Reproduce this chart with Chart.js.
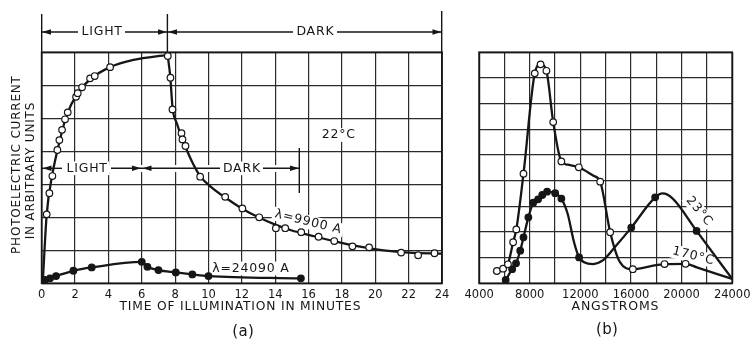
<!DOCTYPE html>
<html lang="en">
<head>
<meta charset="UTF-8">
<title>Photoelectric current</title>
<script src="https://cdn.jsdelivr.net/npm/chart.js"></script>
<style>
  body { margin: 0; background: #fff; }
  .painel { position: absolute; top: 0; }
  #painel_a { left: 0; }
  #painel_b { left: 460px; }
</style>
</head>
<body>
<canvas id="painel_a" class="painel" width="460" height="343"></canvas>
<canvas id="painel_b" class="painel" width="295" height="343"></canvas>
<script>
// (a) current vs time, lambda = 9900 A (open circles)
const tempo9900 = [0.3, 0.46, 0.64, 0.94, 1.06, 1.22, 1.40, 1.56, 2.06, 2.16, 2.42, 2.9, 3.18, 4.1, 7.56,
  7.72, 7.84, 8.38, 8.44, 8.62, 9.5, 11.0, 12.03, 13.04, 14.04, 14.6, 15.56, 16.6, 17.54, 18.63, 19.63, 21.55, 22.57, 23.55];
const corrente9900 = [2.09, 2.73, 3.25, 4.04, 4.34, 4.65, 4.97, 5.18, 5.65, 5.76, 5.94, 6.21, 6.28, 6.55, 6.89,
  6.23, 5.27, 4.55, 4.36, 4.16, 3.23, 2.62, 2.27, 2.0, 1.67, 1.67, 1.55, 1.41, 1.28, 1.12, 1.09, 0.93, 0.85, 0.91];
// drawn curve through them (light on, then dark)
const curvaLuzT = [0.06, 0.3, 0.64, 1.0, 1.5, 2.1, 2.9, 4.1, 5.5, 7.55];
const curvaLuzY = [0, 2.09, 3.3, 4.15, 5.1, 5.72, 6.18, 6.55, 6.77, 6.92];
const curvaEscuroT = [7.55, 7.7, 7.85, 8.1, 8.45, 9.0, 9.5, 10.2, 11, 12, 13, 14, 15, 16, 17.5, 19, 20.5, 22, 24];
const curvaEscuroY = [6.92, 6.3, 5.3, 4.85, 4.35, 3.7, 3.25, 2.9, 2.6, 2.27, 2.0, 1.78, 1.6, 1.47, 1.28, 1.12, 1.0, 0.93, 0.9];

// (a) lambda = 24090 A (filled circles)
const tempo24090 = [0.2, 0.5, 0.86, 1.9, 3.0, 6.0, 6.34, 7.0, 8.04, 9.03, 10.0, 15.54];
const corrente24090 = [0.1, 0.15, 0.22, 0.38, 0.48, 0.65, 0.5, 0.4, 0.33, 0.27, 0.22, 0.15];

// (b) spectral response, 170 C (open) and 23 C (filled)
const onda170 = [5404, 5894, 6278, 6685, 6938, 7506, 8397, 8856, 9317, 9854, 10498, 11878, 13566, 14357, 16146, 18653, 20316];
const resp170 = [0.48, 0.57, 0.74, 1.6, 2.1, 4.27, 8.18, 8.53, 8.28, 6.28, 4.75, 4.52, 3.96, 1.99, 0.55, 0.75, 0.76];
const curva170A = [5100, 5404, 5894, 6278, 6685, 6938, 7506, 8397, 8856, 9317, 9854, 10498, 11000, 11878, 13000, 13566, 14357, 15100, 16146, 17500, 18653, 20316, 21200, 24000];
const curva170Y = [0.42, 0.48, 0.57, 0.74, 1.6, 2.1, 4.27, 8.18, 8.53, 8.28, 6.28, 4.75, 4.62, 4.52, 4.2, 3.96, 1.99, 0.85, 0.55, 0.66, 0.75, 0.76, 0.62, 0.17];

const onda23 = [6097, 6609, 6916, 7247, 7506, 7890, 8273, 8657, 8987, 9370, 10007, 10498, 11900, 16023, 17912, 21186];
const resp23 = [0.13, 0.55, 0.78, 1.27, 1.79, 2.57, 3.14, 3.27, 3.44, 3.57, 3.51, 3.30, 1.01, 2.17, 3.35, 2.04];
const curva23A = [6097, 6609, 6916, 7247, 7506, 7890, 8273, 8657, 8987, 9370, 10007, 10498, 11000, 11500, 11900, 12300, 13000, 13800, 14800, 16023, 17912, 18500, 19300, 21186, 24000];
const curva23Y = [0.13, 0.55, 0.78, 1.27, 1.79, 2.57, 3.14, 3.27, 3.44, 3.57, 3.51, 3.30, 2.7, 1.6, 1.01, 0.82, 0.75, 0.9, 1.45, 2.17, 3.35, 3.5, 3.3, 2.04, 0.17];

const ticksTempo = [0, 24, 2];
const ticksOnda = [4000, 24000, 2000, 4000];

const FONTE = "'DejaVu Sans', sans-serif";
const TINTA = '#161616';

function pares(xs, ys) {
  return xs.map((x, i) => ({ x: x, y: ys[i] }));
}

function curva(xs, ys) {
  return {
    data: pares(xs, ys), showLine: true, borderColor: TINTA, borderWidth: 2.3,
    pointRadius: 0, cubicInterpolationMode: 'monotone', fill: false, order: 2
  };
}

function pontos(xs, ys, cheio) {
  return {
    data: pares(xs, ys), showLine: false, pointRadius: 3.3, pointBorderWidth: 1.2,
    pointBorderColor: TINTA, pointBackgroundColor: cheio ? TINTA : '#fff', order: 1
  };
}

// lettering is wide, so a little extra spacing between letters
function texto(ctx, s, x, y, tam, ang, fundo, esp) {
  ctx.save();
  ctx.translate(x, y);
  ctx.rotate((ang || 0) * Math.PI / 180);
  ctx.font = tam + 'px ' + FONTE;
  var e = esp === undefined ? 0.8 : esp;
  ctx.letterSpacing = e + 'px';
  ctx.textAlign = 'center';
  ctx.textBaseline = 'middle';
  if (fundo) {
    var w = ctx.measureText(s).width;
    ctx.fillStyle = '#fff';
    ctx.fillRect(-w / 2 - 2, -tam * 0.55, w + 4, tam * 1.1);
  } else {
    ctx.fillStyle = TINTA;
    ctx.fillText(s, e / 2, 0);
  }
  ctx.restore();
}

function linha(ctx, x1, y1, x2, y2) {
  ctx.beginPath();
  ctx.moveTo(x1, y1);
  ctx.lineTo(x2, y2);
  ctx.stroke();
}

function seta(ctx, x, y, dir) {
  ctx.beginPath();
  ctx.moveTo(x, y);
  ctx.lineTo(x - dir * 9, y - 2.8);
  ctx.lineTo(x - dir * 9, y + 2.8);
  ctx.closePath();
  ctx.fill();
}

function moldura(chart) {
  var a = chart.chartArea, ctx = chart.ctx;
  ctx.save();
  ctx.strokeStyle = TINTA;
  ctx.lineWidth = 1.8;
  ctx.strokeRect(a.left, a.top, a.right - a.left, a.bottom - a.top);
  ctx.restore();
}

function eixoX(min, max, passo, rotulo) {
  return {
    type: 'linear', min: min, max: max,
    grid: { color: '#2b2b2b', lineWidth: 1.2, drawTicks: false },
    border: { display: false },
    ticks: {
      stepSize: passo, autoSkip: false, maxRotation: 0, padding: 4.5, color: TINTA,
      font: { family: FONTE, size: 11.5 },
      callback: function (v) { return (v - min) % rotulo === 0 ? String(v) : ''; }
    },
    afterFit: function (s) { s.height = 59.7; }
  };
}

function eixoY(max, largura) {
  return {
    type: 'linear', min: 0, max: max,
    grid: { color: '#2b2b2b', lineWidth: 1.2, drawTicks: false },
    border: { display: false },
    ticks: { stepSize: 1, display: false },
    afterFit: function (s) { s.width = largura; }
  };
}

const base = {
  responsive: false, animation: false, events: [],
  plugins: { legend: { display: false }, tooltip: { enabled: false } }
};

// ---------- painel (a) ----------
const fundoA = {
  id: 'fundoA',
  beforeDatasetsDraw(chart) {
    var ctx = chart.ctx;
    texto(ctx, '22°C', 338.3, 135, 12.5, 0, true);
    texto(ctx, 'λ=9900 A', 308, 222, 12.5, 14, true);
    texto(ctx, 'λ=24090 A', 250.5, 268.5, 12.5, 0, true);
    texto(ctx, 'LIGHT', 86.7, 168.3, 12.5, 0, true);
    texto(ctx, 'DARK', 241.5, 168.3, 12.5, 0, true);
    ctx.fillStyle = '#fff';
    ctx.fillRect(44, 165, 255, 7);
  }
};

const notasA = {
  id: 'notasA',
  afterDraw(chart) {
    var ctx = chart.ctx;
    moldura(chart);
    ctx.save();
    ctx.strokeStyle = TINTA;
    ctx.fillStyle = TINTA;
    ctx.lineWidth = 1.4;
    // faixas LIGHT / DARK no topo
    linha(ctx, 41.7, 14, 41.7, 52);
    linha(ctx, 167.4, 14, 167.4, 52);
    linha(ctx, 441.7, 11, 441.7, 52);
    linha(ctx, 41.7, 32, 78, 32);
    linha(ctx, 125, 32, 167.4, 32);
    linha(ctx, 167.4, 32, 293, 32);
    linha(ctx, 337, 32, 441.7, 32);
    seta(ctx, 42, 32, -1);
    seta(ctx, 167, 32, 1);
    seta(ctx, 168, 32, -1);
    seta(ctx, 441.5, 32, 1);
    // faixas internas (curva 24090 A)
    linha(ctx, 41.7, 168.3, 62, 168.3);
    linha(ctx, 111, 168.3, 220, 168.3);
    linha(ctx, 263, 168.3, 299.3, 168.3);
    linha(ctx, 299.3, 148, 299.3, 193);
    seta(ctx, 42.5, 168.3, -1);
    seta(ctx, 141, 168.3, 1);
    seta(ctx, 142.5, 168.3, -1);
    seta(ctx, 299, 168.3, 1);
    ctx.restore();

    texto(ctx, 'LIGHT', 101.7, 31.5, 12.5);
    texto(ctx, 'DARK', 315, 31.5, 12.5);
    texto(ctx, 'LIGHT', 86.7, 168.3, 12.5);
    texto(ctx, 'DARK', 241.5, 168.3, 12.5);
    texto(ctx, '22°C', 338.3, 135, 12.5);
    texto(ctx, 'λ=9900 A', 308, 222, 12.5, 14);
    texto(ctx, 'λ=24090 A', 250.5, 268.5, 12.5);
    texto(ctx, 'PHOTOELECTRIC CURRENT', 16.5, 165, 12, -90);
    texto(ctx, 'IN ARBITRARY UNITS', 31, 171, 12, -90);
    texto(ctx, 'TIME OF ILLUMINATION IN MINUTES', 240, 307, 12.3);
    texto(ctx, '(a)', 243, 332, 15, 0, false, 0.3);
  }
};

new Chart(document.getElementById('painel_a'), {
  type: 'scatter',
  data: {
    datasets: [
      pontos(tempo9900, corrente9900, false),
      pontos(tempo24090, corrente24090, true),
      curva(curvaLuzT, curvaLuzY),
      curva(curvaEscuroT, curvaEscuroY),
      curva([0.05].concat(tempo24090), [0.02].concat(corrente24090))
    ]
  },
  options: Object.assign({}, base, {
    layout: { padding: { top: 52.3, right: 18, bottom: 0, left: 0 } },
    scales: {
      x: eixoX(ticksTempo[0], ticksTempo[1], ticksTempo[2], ticksTempo[2]),
      y: eixoY(7, 41.7)
    }
  }),
  plugins: [fundoA, notasA]
});

// ---------- painel (b) ----------
const fundoB = {
  id: 'fundoB',
  beforeDatasetsDraw(chart) {
    var ctx = chart.ctx;
    texto(ctx, '23°C', 239, 211, 12.5, 50, true);
    texto(ctx, '170°C', 233, 256, 12.5, 14, true);
  }
};

const notasB = {
  id: 'notasB',
  afterDraw(chart) {
    var ctx = chart.ctx;
    moldura(chart);
    texto(ctx, '23°C', 239, 211, 12.5, 50);
    texto(ctx, '170°C', 233, 256, 12.5, 14);
    texto(ctx, 'ANGSTROMS', 155, 307, 12.5);
    texto(ctx, '(b)', 147, 330, 15, 0, false, 0.3);
  }
};

new Chart(document.getElementById('painel_b'), {
  type: 'scatter',
  data: {
    datasets: [
      pontos(onda170, resp170, false),
      pontos(onda23, resp23, true),
      curva(curva170A, curva170Y),
      curva(curva23A, curva23Y)
    ]
  },
  options: Object.assign({}, base, {
    layout: { padding: { top: 52.3, right: 18.3, bottom: 0, left: 0 } },
    scales: {
      x: eixoX(ticksOnda[0], ticksOnda[1], ticksOnda[2], ticksOnda[3]),
      y: eixoY(9, 16)
    }
  }),
  plugins: [fundoB, notasB]
});
</script>
</body>
</html>
